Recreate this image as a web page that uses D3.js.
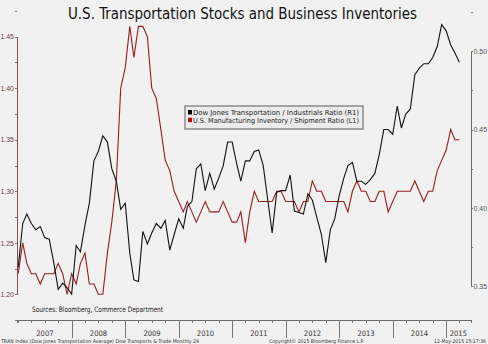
<!DOCTYPE html>
<html>
<head>
<meta charset="utf-8">
<script src="https://cdn.jsdelivr.net/npm/d3@7"></script>
<style>
  body { margin: 0; background: #f1f1f1; }
  svg { display: block; font-family: "DejaVu Sans Condensed", "DejaVu Sans", sans-serif; }
</style>
</head>
<body>
<div id="chart"></div>
<script>
// monthly series, Jan 2007 .. Apr 2015
var firstMonth = new Date(2007, 0, 1),
    lastMonth = new Date(2015, 3, 1);

// Dow Jones Transportation / Industrials ratio (right axis)
var transRatio = [
  0.362, 0.390, 0.396, 0.390, 0.386, 0.388, 0.381, 0.380, 0.365, 0.348, 0.352, 0.349,
  0.345, 0.376, 0.372, 0.389, 0.403, 0.430, 0.436, 0.446, 0.442, 0.425, 0.417, 0.399,
  0.403, 0.371, 0.354, 0.353, 0.385, 0.377, 0.384, 0.390, 0.387, 0.392, 0.373, 0.383,
  0.393, 0.387, 0.401, 0.404, 0.425, 0.428, 0.411, 0.422, 0.412, 0.419, 0.427, 0.442,
  0.442, 0.428, 0.417, 0.430, 0.430, 0.436, 0.437, 0.427, 0.405, 0.384, 0.410, 0.411,
  0.411, 0.421, 0.398, 0.397, 0.396, 0.409, 0.405, 0.394, 0.383, 0.365, 0.386, 0.393,
  0.408, 0.419, 0.427, 0.429, 0.417, 0.417, 0.415, 0.418, 0.422, 0.434, 0.450, 0.450,
  0.447, 0.465, 0.451, 0.460, 0.463, 0.485, 0.489, 0.492, 0.492, 0.496, 0.503, 0.517,
  0.513, 0.504, 0.499, 0.493
];

// U.S. manufacturing inventory / shipment ratio (left axis)
var invRatio = [
  1.22, 1.25, 1.23, 1.22, 1.22, 1.21, 1.22, 1.22, 1.22, 1.23, 1.22, 1.20,
  1.22, 1.21, 1.23, 1.24, 1.21, 1.21, 1.20, 1.20, 1.24, 1.27, 1.31, 1.40,
  1.42, 1.46, 1.43, 1.46, 1.46, 1.45, 1.40, 1.39, 1.36, 1.33, 1.32, 1.30,
  1.29, 1.28, 1.29, 1.28, 1.27, 1.28, 1.29, 1.28, 1.28, 1.28, 1.29, 1.28,
  1.27, 1.27, 1.28, 1.25, 1.28, 1.30, 1.29, 1.29, 1.29, 1.29, 1.30, 1.30,
  1.29, 1.29, 1.29, 1.28, 1.29, 1.29, 1.31, 1.30, 1.30, 1.29, 1.29, 1.29,
  1.29, 1.29, 1.28, 1.30, 1.31, 1.30, 1.30, 1.29, 1.29, 1.30, 1.30, 1.28,
  1.29, 1.30, 1.30, 1.30, 1.30, 1.31, 1.30, 1.29, 1.30, 1.30, 1.32, 1.33,
  1.34, 1.36, 1.35, 1.35
];

var years = ["2007", "2008", "2009", "2010", "2011", "2012", "2013", "2014", "2015"];
var leftTicks = [1.20, 1.25, 1.30, 1.35, 1.40, 1.45];
var rightTicks = [0.35, 0.40, 0.45, 0.50];

var legendLabels = [
  "Dow Jones Transportation / Industrials Ratio (R1)",
  "U.S. Manufacturing Inventory / Shipment Ratio (L1)"
];

var W = 488, H = 344;
var plot = {left: 17, right: 470.5, top: 0, bottom: 320};
var black = "#111", red = "#9a1c1c", leftInk = "#7d3b3b", greyInk = "#555";

var months = d3.timeMonth.range(firstMonth, d3.timeMonth.offset(lastMonth, 1));
var data = months.map(function(d, i) {
  return {date: d, trans: transRatio[i], inv: invRatio[i]};
});

var svg = d3.select("#chart")
  .append("svg")
    .attr("width", W)
    .attr("height", H);

svg.append("rect")
  .attr("width", W).attr("height", H)
  .attr("fill", "#f1f1f1");

// scales
var x = d3.scaleTime()
  .domain([new Date(2006, 11, 24), new Date(2015, 5, 16)])
  .range([plot.left, plot.right]);

var yL = d3.scaleLinear()
  .domain([1.20, 1.45])
  .range([294.3, 36.7]);

var yR = d3.scaleLinear()
  .domain([0.35, 0.50])
  .range([286.2, 51.2]);

// title
svg.append("text")
  .attr("x", 242.5)
  .attr("y", 19)
  .attr("text-anchor", "middle")
  .attr("font-size", 16)
  .attr("fill", "#111")
  .attr("textLength", 349)
  .attr("lengthAdjust", "spacingAndGlyphs")
  .text("U.S. Transportation Stocks and Business Inventories");

// left axis
var leftAxis = svg.append("g")
  .attr("transform", "translate(" + plot.left + ",0)")
  .call(d3.axisLeft(yL)
    .tickValues(leftTicks)
    .tickSize(2)
    .tickPadding(1)
    .tickFormat(d3.format(".2f")));
svg.append("g")
  .attr("transform", "translate(" + plot.left + ",0)")
  .call(d3.axisLeft(yL)
    .tickValues([1.175, 1.225, 1.275, 1.325, 1.375, 1.425, 1.475])
    .tickSize(2)
    .tickFormat(""))
  .call(function(g) { g.select(".domain").remove(); });

// right axis
var rightAxis = svg.append("g")
  .attr("transform", "translate(" + plot.right + ",0)")
  .call(d3.axisRight(yR)
    .tickValues(rightTicks)
    .tickSize(2)
    .tickPadding(1)
    .tickFormat(d3.format(".2f")));
svg.append("g")
  .attr("transform", "translate(" + plot.right + ",0)")
  .call(d3.axisRight(yR)
    .tickValues([0.375, 0.425, 0.475, 0.525])
    .tickSize(2)
    .tickFormat(""))
  .call(function(g) { g.select(".domain").remove(); });

// bottom axis: quarter ticks plus long year separators
svg.append("g")
  .attr("transform", "translate(0," + plot.bottom + ")")
  .call(d3.axisBottom(x)
    .tickValues(d3.timeMonth.every(3).range(new Date(2007, 0, 1), new Date(2015, 6, 1)))
    .tickSize(3)
    .tickFormat(""));
svg.append("g")
  .attr("transform", "translate(0," + plot.bottom + ")")
  .call(d3.axisBottom(x)
    .tickValues(years.slice(1).map(function(y) { return new Date(+y, 0, 1); }))
    .tickSize(18)
    .tickFormat(""))
  .call(function(g) { g.select(".domain").remove(); });

svg.selectAll("path.domain")
  .attr("stroke", "#6a6a6a")
  .attr("shape-rendering", "crispEdges");
leftAxis.select(".domain").attr("stroke", "#8a5050");
svg.selectAll(".tick line")
  .attr("stroke", "#777")
  .attr("shape-rendering", "crispEdges");

svg.selectAll(".tick text").attr("font-family", null).attr("font-size", 7);
leftAxis.selectAll("text").attr("fill", leftInk);
rightAxis.selectAll("text").attr("fill", greyInk);

// year labels, centred in each year's span
svg.append("g")
  .selectAll("text")
  .data(years)
  .join("text")
    .attr("x", function(d) {
      var a = x(new Date(+d, 0, 1)), b = Math.min(x(new Date(+d + 1, 0, 1)), plot.right);
      return (a + b) / 2;
    })
    .attr("y", 336)
    .attr("text-anchor", "middle")
    .attr("font-size", 7.5)
    .attr("fill", "#333")
    .text(function(d) { return d; });

// series lines
svg.append("path")
  .datum(data)
  .attr("fill", "none")
  .attr("stroke", red)
  .attr("stroke-width", 1.1)
  .attr("d", d3.line()
    .x(function(d) { return x(d.date) })
    .y(function(d) { return yL(d.inv) })
    );

svg.append("path")
  .datum(data)
  .attr("fill", "none")
  .attr("stroke", black)
  .attr("stroke-width", 1.1)
  .attr("d", d3.line()
    .x(function(d) { return x(d.date) })
    .y(function(d) { return yR(d.trans) })
    );

// legend
var legend = svg.append("g").attr("transform", "translate(185,106)");
legend.append("rect")
  .attr("width", 178).attr("height", 23)
  .attr("fill", "#ececec")
  .attr("stroke", "#8a8a8a")
  .attr("stroke-width", 1.5);
legend.selectAll("g.item")
  .data(legendLabels)
  .join("g")
    .attr("class", "item")
    .attr("transform", function(d, i) { return "translate(3," + (9 + i * 7.7) + ")"; })
    .each(function(d, i) {
      var g = d3.select(this);
      g.append("rect")
        .attr("x", 0).attr("y", -5)
        .attr("width", 4).attr("height", 4.5)
        .attr("fill", i === 0 ? "#000" : "#b01010");
      g.append("text")
        .attr("x", 5)
        .attr("y", 0)
        .attr("font-size", 7)
        .attr("fill", "#222")
        .attr("textLength", 166)
        .attr("lengthAdjust", "spacingAndGlyphs")
        .text(d);
    });

// source and footer
svg.append("text")
  .attr("x", 32).attr("y", 312)
  .attr("font-size", 7.5)
  .attr("fill", "#222")
  .attr("textLength", 131)
  .attr("lengthAdjust", "spacingAndGlyphs")
  .text("Sources: Bloomberg, Commerce Department");

var footer = [
  {t: "TRAN Index (Dow Jones Transportation Average) Dow Transports & Trade  Monthly 29", x: 1, w: 198},
  {t: "Copyright\u00a9 2015 Bloomberg Finance L.P.", x: 269, w: 95},
  {t: "12-May-2015 15:17:36", x: 434, w: 52}
];
svg.append("g")
  .selectAll("text")
  .data(footer)
  .join("text")
    .attr("x", function(d) { return d.x; })
    .attr("y", 342.5)
    .attr("font-size", 5.2)
    .attr("fill", "#333")
    .attr("textLength", function(d) { return d.w; })
    .attr("lengthAdjust", "spacingAndGlyphs")
    .text(function(d) { return d.t; });
</script>
</body>
</html>
